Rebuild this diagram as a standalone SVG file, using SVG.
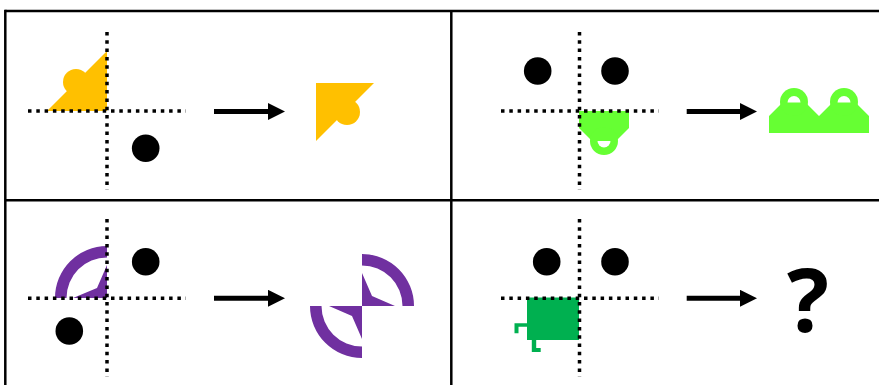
<svg xmlns="http://www.w3.org/2000/svg" width="879" height="385" viewBox="0 0 879 385">
<style>
.frame{stroke:#000;stroke-width:2.5;fill:none}
.axis{stroke:#000;stroke-width:3.5;stroke-dasharray:3.5 4.8;fill:none}
.dot{fill:#000}
.yel{fill:#FFC000}
.lg{fill:#66FF33}
.dg{fill:#00B050}
.pur{fill:#7030A0}
.hole{fill:#fff}
.arrow{stroke:#000;stroke-width:5;fill:none;marker-end:url(#head)}
.q{font-family:"Open Sans","DejaVu Sans",sans-serif;font-weight:700;font-size:88px;fill:#000}
</style>
<defs>
<marker id="head" viewBox="0 0 17 17" markerWidth="17" markerHeight="17" refX="0" refY="8.5" markerUnits="userSpaceOnUse" orient="auto">
<path d="M0,0 L17,8.5 L0,17 Z" fill="#000"/>
</marker>
</defs>
<rect width="879" height="385" fill="#fff"/>
<g id="frame">
<line class="frame" x1="5.3" y1="11" x2="879" y2="11"/>
<line class="frame" x1="5.3" y1="9.8" x2="5.3" y2="385"/>
<line class="frame" x1="5.3" y1="200.3" x2="879" y2="200.3"/>
<line class="frame" x1="451.3" y1="11" x2="451.3" y2="385"/>
</g>
<g id="panel1">
<polygon class="yel" points="47,111 107,51 107,111"/>
<circle class="yel" cx="76" cy="82" r="13"/>
<circle class="dot" cx="145.7" cy="148.3" r="13.8"/>
<line class="axis" x1="28" y1="111" x2="186" y2="111"/>
<line class="axis" x1="107" y1="32" x2="107" y2="190"/>
</g>
<g id="result1">
<polygon class="yel" points="316,83 374,83 316,141"/>
<circle class="yel" cx="347" cy="112" r="13"/>
</g>
<g id="panel2">
<circle class="dot" cx="537.7" cy="71" r="13.8"/>
<circle class="dot" cx="615" cy="71" r="13.8"/>
<polygon class="lg" points="579,111 629,111 629,128 616,141 592,141 579,128"/>
<circle class="lg" cx="604" cy="141" r="14"/>
<path class="hole" d="M597.5,141 A6.5,6.5 0 0 0 610.5,141 Z"/>
<line class="axis" x1="501" y1="111" x2="659" y2="111"/>
<line class="axis" x1="579.5" y1="32" x2="579.5" y2="190"/>
</g>
<g id="result2">
<polygon class="lg" points="769,133 769,116 782,103 806,103 819,116 832,103 856,103 869,116 869,133"/>
<circle class="lg" cx="794" cy="102" r="14"/>
<circle class="lg" cx="844" cy="102" r="14"/>
<path class="hole" d="M787.5,102.5 A6.5,6.5 0 0 1 800.5,102.5 Z"/>
<path class="hole" d="M837.5,102.5 A6.5,6.5 0 0 1 850.5,102.5 Z"/>
</g>
<g id="panel3">
<circle class="dot" cx="145.7" cy="261.7" r="13.8"/>
<circle class="dot" cx="69.3" cy="331" r="13.8"/>
<path class="pur" d="M55,298 A52,52 0 0 1 107,246 L107,257.5 A40.5,40.5 0 0 0 66.5,298 Z"/>
<polygon class="pur" points="107,265 97,288 73,298 107,298"/>
<line class="axis" x1="28" y1="298.3" x2="186" y2="298.3"/>
<line class="axis" x1="107" y1="219" x2="107" y2="377"/>
</g>
<g id="result3">
<path class="pur" d="M362,254 A52,52 0 0 1 414,306 L402.5,306 A40.5,40.5 0 0 0 362,265.5 Z"/>
<path class="pur" d="M362,358 A52,52 0 0 1 310,306 L321.5,306 A40.5,40.5 0 0 0 362,346.5 Z"/>
<polygon class="pur" points="362,273 372,296 395,306 362,306"/>
<polygon class="pur" points="329,306 352,316 362,339 362,306"/>
</g>
<g id="panel4">
<circle class="dot" cx="546.7" cy="261.7" r="13.8"/>
<circle class="dot" cx="615" cy="261.7" r="13.8"/>
<rect class="dg" x="527" y="297.5" width="52" height="42.5"/>
<path class="dg" d="M527,323.3 H514.5 V333.3 H518.5 V326.8 H527 Z"/>
<path class="dg" d="M531.8,340 V352 H540.7 V348 H536.2 V340 Z"/>
<line class="axis" x1="501" y1="298.3" x2="659" y2="298.3"/>
<line class="axis" x1="579.5" y1="219" x2="579.5" y2="377"/>
</g>
<g id="result4">
<text class="q" x="808" y="332" text-anchor="middle">?</text>
</g>
<g id="connectors">
<line class="arrow" x1="214" y1="111.5" x2="268" y2="111.5"/>
<line class="arrow" x1="686.7" y1="111.5" x2="740" y2="111.5"/>
<line class="arrow" x1="214" y1="298.3" x2="268" y2="298.3"/>
<line class="arrow" x1="686.7" y1="298.3" x2="740" y2="298.3"/>
</g>
</svg>
